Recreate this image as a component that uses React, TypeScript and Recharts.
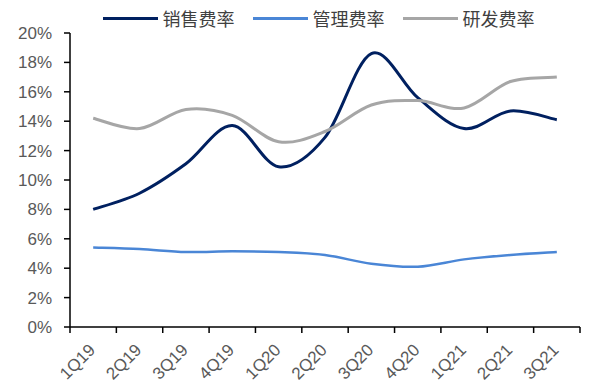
import { Legend, Line, LineChart, XAxis, YAxis } from "recharts";

const quarters = ["1Q19", "2Q19", "3Q19", "4Q19", "1Q20", "2Q20", "3Q20", "4Q20", "1Q21", "2Q21", "3Q21"];
const salesRate = [8.0, 9.1, 11.1, 13.7, 10.9, 12.9, 18.6, 15.6, 13.5, 14.7, 14.1];
const adminRate = [5.4, 5.3, 5.1, 5.15, 5.1, 4.9, 4.3, 4.1, 4.6, 4.9, 5.1];
const rdRate = [14.2, 13.5, 14.8, 14.4, 12.6, 13.3, 15.1, 15.4, 14.9, 16.7, 17.0];
const yTicks = [0, 2, 4, 6, 8, 10, 12, 14, 16, 18, 20];

const series = [
  { key: "sales", name: "销售费率", color: "#002060", width: 3 },
  { key: "admin", name: "管理费率", color: "#4a86d6", width: 2.5 },
  { key: "rd", name: "研发费率", color: "#a6a6a6", width: 3 },
];

const data = quarters.map((q, i) => ({
  q,
  sales: salesRate[i],
  admin: adminRate[i],
  rd: rdRate[i],
}));

const font = "'Liberation Sans', Arial, sans-serif";

// Excel-style smoothing (catmull-rom through every point)
function excelCurve(context: any) {
  let pts: number[][] = [];
  return {
    areaStart() {},
    areaEnd() {},
    lineStart() {
      pts = [];
    },
    point(x: number, y: number) {
      pts.push([+x, +y]);
    },
    lineEnd() {
      if (!pts.length) return;
      context.moveTo(pts[0][0], pts[0][1]);
      for (let i = 0; i < pts.length - 1; i++) {
        const p0 = pts[i - 1] || pts[i];
        const p1 = pts[i];
        const p2 = pts[i + 1];
        const p3 = pts[i + 2] || p2;
        context.bezierCurveTo(
          p1[0] + (p2[0] - p0[0]) / 6,
          p1[1] + (p2[1] - p0[1]) / 6,
          p2[0] - (p3[0] - p1[0]) / 6,
          p2[1] - (p3[1] - p1[1]) / 6,
          p2[0],
          p2[1]
        );
      }
    },
  };
}

// ticks sit between categories, labels rotated 45deg under each category
function XTick(props: any) {
  const { x, y, payload, index, visibleTicksCount } = props;
  const half = payload.offset || 23;
  const last = index === visibleTicksCount - 1;
  const tx = x + 3;
  const ty = y + 24;
  return (
    <g>
      <line x1={x - half} x2={x - half} y1={y} y2={y + 6} stroke="#000" strokeWidth={1.5} />
      {last && <line x1={x + half} x2={x + half} y1={y} y2={y + 6} stroke="#000" strokeWidth={1.5} />}
      <text
        x={tx}
        y={ty}
        textAnchor="end"
        transform={`rotate(-45 ${tx} ${ty})`}
        fill="#595959"
        fontSize={17}
        fontFamily={font}
      >
        {payload.value}
      </text>
    </g>
  );
}

function LegendBox() {
  return (
    <div style={{ display: "flex", justifyContent: "center", alignItems: "center", height: 24, gap: 18 }}>
      {series.map((s) => (
        <div key={s.key} style={{ display: "flex", alignItems: "center", gap: 5 }}>
          <div style={{ width: 55, height: 3, background: s.color }} />
          <span style={{ fontFamily: "'Noto Sans CJK SC', sans-serif", fontSize: 18, color: "#404040", lineHeight: "24px" }}>
            {s.name}
          </span>
        </div>
      ))}
    </div>
  );
}

export default function App() {
  return (
    <div style={{ position: "absolute", left: 0, top: 0, width: 600, height: 389, background: "#fff" }}>
      <LineChart width={600} height={389} data={data} margin={{ top: 9, right: 20, left: 0, bottom: 0 }}>
        <Legend verticalAlign="top" content={<LegendBox />} wrapperStyle={{ left: 60, width: 517, top: 6 }} />
        <XAxis
          dataKey="q"
          scale="band"
          height={62}
          tickSize={0}
          tickMargin={0}
          interval={0}
          tick={<XTick />}
          axisLine={{ stroke: "#000", strokeWidth: 1.5 }}
        />
        <YAxis
          width={70}
          domain={[0, 20]}
          ticks={yTicks}
          interval={0}
          tickSize={6}
          tickMargin={12}
          tickFormatter={(v: number) => `${v}%`}
          tick={{ fill: "#595959", fontSize: 17, fontFamily: font }}
          tickLine={{ stroke: "#000", strokeWidth: 1.5 }}
          axisLine={{ stroke: "#000", strokeWidth: 1.5 }}
        />
        {series.map((s) => (
          <Line
            key={s.key}
            type={excelCurve as any}
            dataKey={s.key}
            name={s.name}
            stroke={s.color}
            strokeWidth={s.width}
            dot={false}
            activeDot={false}
            isAnimationActive={false}
          />
        ))}
      </LineChart>
    </div>
  );
}
